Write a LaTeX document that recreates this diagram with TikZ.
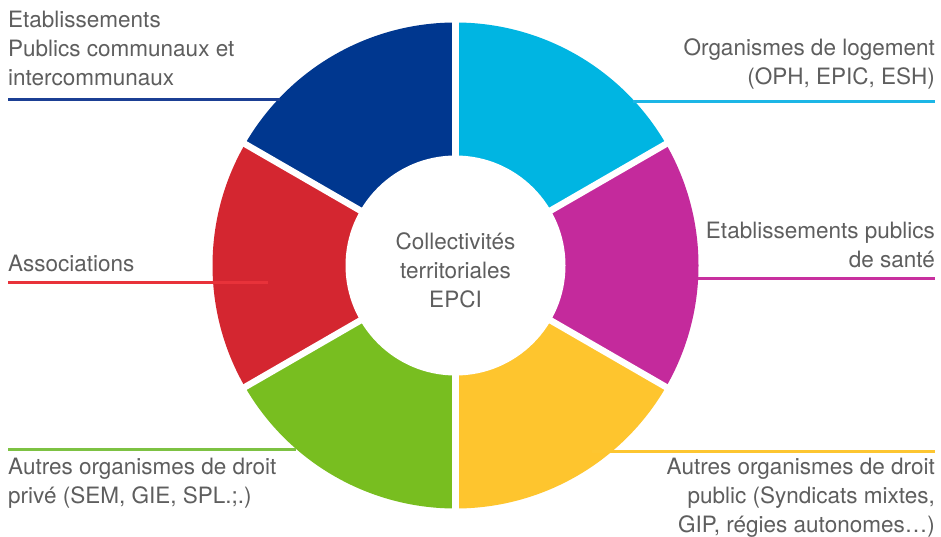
\documentclass[tikz,border=0pt]{standalone}
\usepackage{fontspec}
\setmainfont{TeX Gyre Heros}
\definecolor{segblue}{HTML}{00378F}
\definecolor{segcyan}{HTML}{00B5E2}
\definecolor{segmag}{HTML}{C42A9C}
\definecolor{segred}{HTML}{D42630}
\definecolor{segyel}{HTML}{FEC52E}
\definecolor{seggreen}{HTML}{78BE20}
\definecolor{lnblue}{HTML}{1B3F94}
\definecolor{lncyan}{HTML}{1CB6E6}
\definecolor{lnmag}{HTML}{C8309F}
\definecolor{lnred}{HTML}{E8323A}
\definecolor{lngreen}{HTML}{7DC243}
\definecolor{lnyel}{HTML}{FDC631}
\definecolor{txtgrey}{HTML}{5E5E5E}
\begin{document}
\begin{tikzpicture}[x=1pt,y=-1pt,
  lbl/.style={font=\fontsize{22.5}{29}\selectfont, text=txtgrey, inner sep=0pt},
  lblL/.style={lbl, align=left, anchor=base west},
  lblR/.style={lbl, align=right, anchor=base east},
  leader/.style={line width=3pt},
  gapline/.style={white, line width=6.5pt}]
\useasboundingbox (0,0) rectangle (941,537);
\fill[white] (0,0) rectangle (941,537);
\coordinate (C) at (455.5,265.5);
% ring sectors (angles negated because y points down)
\fill[segcyan]  (C) -- ++(-90:243)  arc[start angle=-90,  end angle=-30,  radius=243] -- cycle;
\fill[segmag]   (C) -- ++(-30:243)  arc[start angle=-30,  end angle=30,   radius=243] -- cycle;
\fill[segyel]   (C) -- ++(30:243)   arc[start angle=30,   end angle=90,   radius=243] -- cycle;
\fill[seggreen] (C) -- ++(90:243)   arc[start angle=90,   end angle=150,  radius=243] -- cycle;
\fill[segred]   (C) -- ++(150:243)  arc[start angle=150,  end angle=210,  radius=243] -- cycle;
\fill[segblue]  (C) -- ++(210:243)  arc[start angle=210,  end angle=270,  radius=243] -- cycle;
\foreach \a in {-90,-30,30,90,150,210} \draw[gapline] (C) -- ++(\a:250);
\fill[white] (C) circle[radius=110];
% centre text (base anchor = baseline of last line)
\node[lbl, align=center, anchor=base] (centre) at (455.5,307) {Collectivités\\territoriales\\EPCI};
% labels
\node[lblL] (epc) at (8,86) {Etablissements\\Publics communaux et\\intercommunaux};
\node[lblR] (log) at (935,85) {Organismes de logement\\(OPH, EPIC, ESH)};
\node[lblR] (sante) at (935,267) {Etablissements publics\\de santé};
\node[lblL] (asso) at (8,271) {Associations};
\node[lblL] (prive) at (8,503) {Autres organismes de droit\\privé (SEM, GIE, SPL.;.)};
\node[lblR] (public) at (935,532) {Autres organismes de droit\\public (Syndicats mixtes,\\GIP, régies autonomes…)};
% leader lines
\coordinate (b1) at (8,100);   \coordinate (b2) at (280,100);
\coordinate (c1) at (633,102); \coordinate (c2) at (935,102);
\coordinate (m1) at (698,278); \coordinate (m2) at (935,278);
\coordinate (r1) at (8,282);   \coordinate (r2) at (268,282);
\coordinate (g1) at (8,449);   \coordinate (g2) at (296,449);
\coordinate (y1) at (592,451); \coordinate (y2) at (935,451);
\draw[leader, lnblue]  (b1) -- (b2);
\draw[leader, lncyan]  (c1) -- (c2);
\draw[leader, lnmag]   (m1) -- (m2);
\draw[leader, lnred]   (r1) -- (r2);
\draw[leader, lngreen] (g1) -- (g2);
\draw[leader, lnyel]   (y1) -- (y2);
\end{tikzpicture}
\end{document}
